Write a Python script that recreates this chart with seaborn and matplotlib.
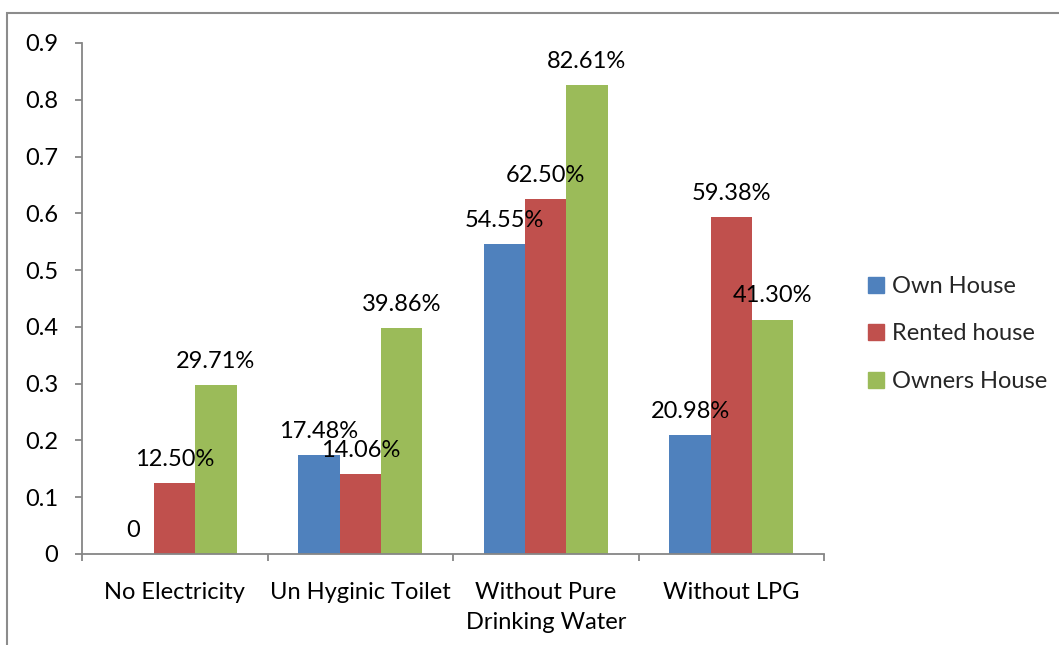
import matplotlib
matplotlib.use("Agg")
import matplotlib.pyplot as plt
import seaborn as sns
import pandas as pd
from matplotlib.lines import Line2D
from matplotlib.patches import Rectangle

categories = ["No Electricity", "Un Hyginic Toilet", "Without Pure\nDrinking Water", "Without LPG"]
series = ["Own House", "Rented house", "Owners House"]
own_house = [0.0, 0.1748, 0.5455, 0.2098]
rented_house = [0.125, 0.1406, 0.625, 0.5938]
owners_house = [0.2971, 0.3986, 0.8261, 0.4130]
y_ticks = [0, 0.1, 0.2, 0.3, 0.4, 0.5, 0.6, 0.7, 0.8, 0.9]
colors = ["#4F81BD", "#C0504D", "#9BBB59"]

rows = []
for s, vals in zip(series, [own_house, rented_house, owners_house]):
    for c, v in zip(categories, vals):
        rows.append({"category": c, "series": s, "value": v})
df = pd.DataFrame(rows)

sns.set_theme(style="white")
plt.rcParams["font.family"] = ["Lato", "DejaVu Sans"]

FS = 17

fig = plt.figure(figsize=(10.59, 6.45), dpi=100)
ax = fig.add_axes([82 / 1059, 91 / 645, (824 - 82) / 1059, (554 - 43) / 645])

sns.barplot(data=df, x="category", y="value", hue="series", order=categories,
            hue_order=series, palette=colors, width=2 / 3, gap=0, ax=ax,
            legend=False, saturation=1, edgecolor="none", linewidth=0)

# labels
for container, vals in zip(ax.containers, [own_house, rented_house, owners_house]):
    for bar, v in zip(container, vals):
        txt = "0" if v == 0 else f"{v * 100:.2f}%"
        ax.annotate(txt, (bar.get_x() + bar.get_width() / 2, bar.get_height()),
                    xytext=(0, 17), textcoords="offset points",
                    ha="center", va="center", fontsize=FS, color="black")

ax.set_ylim(0, 0.9)
ax.set_xlim(-0.5, len(categories) - 0.5)
ax.set_yticks(y_ticks)
ax.set_yticklabels([("0" if t == 0 else f"{t:g}") for t in y_ticks])
ax.set_xlabel("")
ax.set_ylabel("")

for side in ["top", "right"]:
    ax.spines[side].set_visible(False)
for side in ["left", "bottom"]:
    ax.spines[side].set_color("#868686")
    ax.spines[side].set_linewidth(1.3)

ax.tick_params(axis="y", which="major", left=True, length=5, width=1.3, color="#868686",
               pad=12, labelsize=FS, labelcolor="black")
ax.tick_params(axis="x", which="major", bottom=False, length=0, pad=20,
               labelsize=FS, labelcolor="black")
for lbl in ax.get_xticklabels():
    lbl.set_linespacing(1.55)
ax.set_xticks([i - 0.5 for i in range(len(categories) + 1)], minor=True)
ax.tick_params(axis="x", which="minor", bottom=True, length=5, width=1.3, color="#868686",
               direction="out")

handles = [Line2D([0], [0], marker="s", linestyle="none", markersize=11,
                  markerfacecolor=c, markeredgecolor=c) for c in colors]
fig.legend(handles, series, loc="center left", bbox_to_anchor=(855 / 1059, (645 - 334) / 645),
           frameon=False, fontsize=FS, labelspacing=1.12, handletextpad=0.15,
           handlelength=1.0, borderaxespad=0)

fig.patches.append(Rectangle((7 / 1059, -0.05), 1.1, (645 - 13) / 645 + 0.05,
                             transform=fig.transFigure, fill=False,
                             edgecolor="#8c8c8c", linewidth=1.5, zorder=10))

fig.savefig("out.png", dpi=100)
